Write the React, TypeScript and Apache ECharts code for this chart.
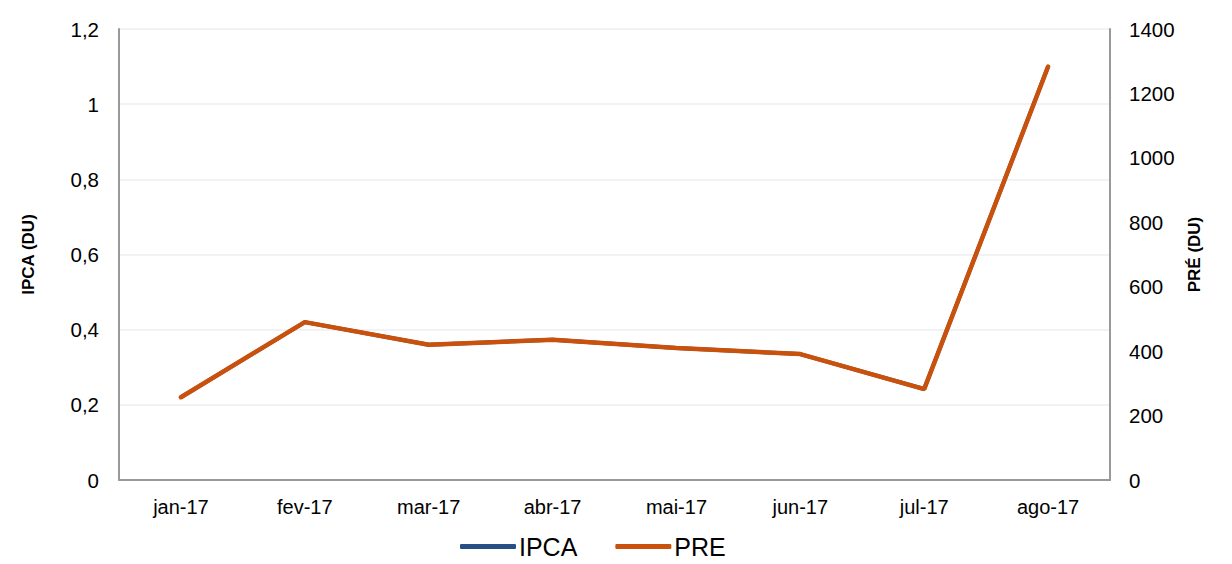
import React, { useEffect, useRef } from "react";
import * as echarts from "echarts";

const categories = ["jan-17", "fev-17", "mar-17", "abr-17", "mai-17", "jun-17", "jul-17", "ago-17"];
const ipcaValues = [0.22, 0.42, 0.36, 0.373, 0.351, 0.335, 0.242, 1.1];
const preValues = [257, 490, 420, 435, 410, 391, 282, 1283];
const leftTicks = { min: 0, max: 1.2, interval: 0.2 };
const rightTicks = { min: 0, max: 1400, interval: 200 };

const FONT = "'Liberation Sans', Arial, sans-serif";

export default function App() {
  const ref = useRef<HTMLDivElement>(null);
  useEffect(() => {
    if (!ref.current) return;
    const chart = echarts.init(ref.current, undefined, { renderer: "svg" });
    chart.setOption({
      animation: false,
      textStyle: { fontFamily: FONT },
      grid: { left: 119, right: 122, top: 29, bottom: 84 },
      legend: {
        top: 529,
        left: 455,
        itemWidth: 56,
        itemHeight: 5,
        itemGap: 38,
        icon: "roundRect",
        textStyle: { fontSize: 25, color: "#000", fontFamily: FONT, padding: [0, 0, 0, -2] },
        data: ["IPCA", "PRE"],
      },
      xAxis: {
        type: "category",
        data: categories,
        boundaryGap: true,
        axisLine: { lineStyle: { color: "#999", width: 2 } },
        axisTick: { show: false },
        axisLabel: { fontSize: 20, color: "#000", margin: 17, fontFamily: FONT },
      },
      yAxis: [
        {
          type: "value",
          ...leftTicks,
          position: "left",
          name: "IPCA (DU)",
          nameLocation: "middle",
          nameRotate: 90,
          nameGap: 82,
          nameTextStyle: { fontSize: 17, fontWeight: "bold", color: "#000", fontFamily: FONT },
          axisLine: { show: true, lineStyle: { color: "#999", width: 2 } },
          axisTick: { show: false },
          splitLine: { lineStyle: { color: "#eeeeee", width: 1.5 } },
          axisLabel: {
            fontSize: 20.5,
            color: "#000",
            margin: 20,
            fontFamily: FONT,
            formatter: (v: number) => String(Math.round(v * 10) / 10).replace(".", ","),
          },
        },
        {
          type: "value",
          ...rightTicks,
          position: "right",
          name: "PRÉ (DU)",
          nameLocation: "middle",
          nameRotate: 90,
          nameGap: 68,
          nameTextStyle: { fontSize: 17, fontWeight: "bold", color: "#000", fontFamily: FONT },
          axisLine: { show: true, lineStyle: { color: "#999", width: 2 } },
          axisTick: { show: false },
          splitLine: { show: false },
          axisLabel: {
            fontSize: 20.5,
            color: "#000",
            margin: 19,
            fontFamily: FONT,
            formatter: (v: number) => String(v),
          },
        },
      ],
      series: [
        {
          name: "IPCA",
          type: "line",
          yAxisIndex: 0,
          data: ipcaValues,
          showSymbol: false,
          symbol: "none",
          lineStyle: { color: "#264F86", width: 4 },
          itemStyle: { color: "#264F86" },
        },
        {
          name: "PRE",
          type: "line",
          yAxisIndex: 1,
          data: preValues,
          showSymbol: false,
          symbol: "none",
          lineStyle: { color: "#C9510C", width: 4.5, cap: "round" },
          itemStyle: { color: "#C9510C" },
        },
      ],
    });
    return () => chart.dispose();
  }, []);
  return <div ref={ref} style={{ width: 1232, height: 564, position: "absolute", left: 0, top: 0 }} />;
}
